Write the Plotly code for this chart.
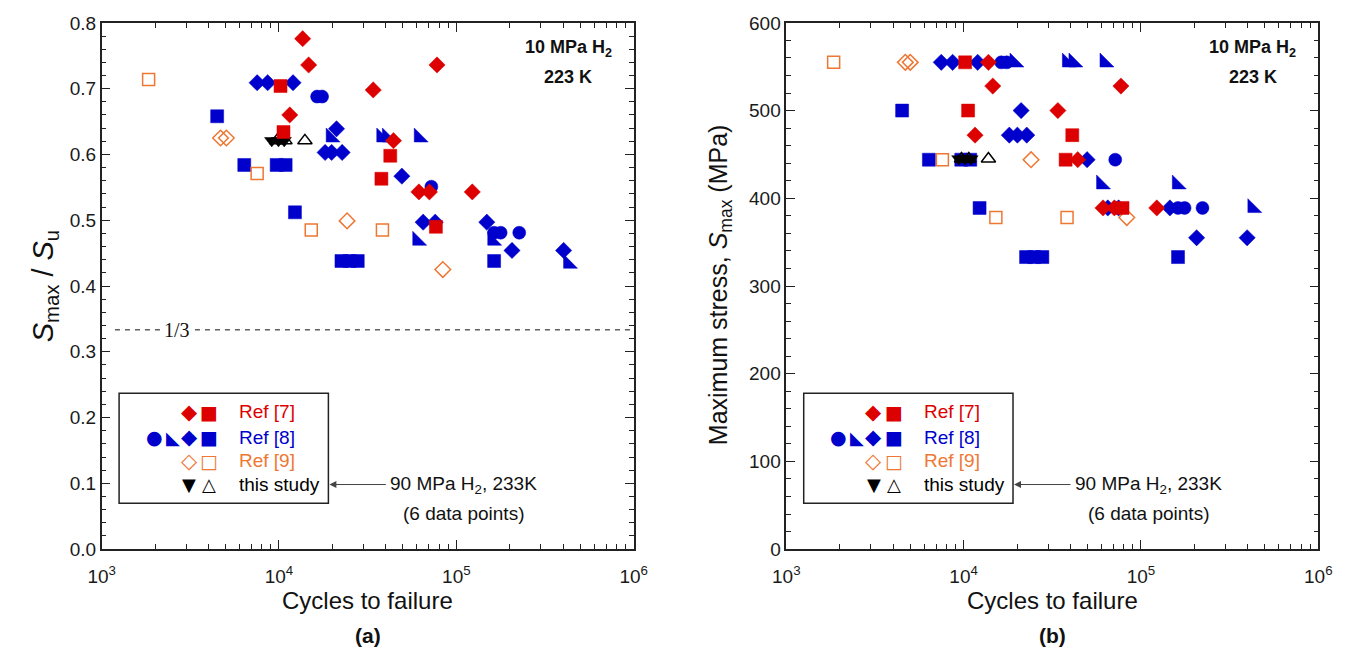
import plotly.graph_objects as go

W, H = 1361, 665

# ---------------- data (cycles to failure, Smax/Su for panel a, Smax in MPa for panel b)
ref7_dia_N_a = [13600, 14700, 11500, 34000, 44200, 61500, 70500, 123000, 77800]
ref7_dia_ratio = [0.776, 0.736, 0.660, 0.698, 0.621, 0.543, 0.543, 0.543, 0.736]
ref7_dia_N_b = [13800, 14600, 11600, 34000, 44000, 61100, 70800, 122800, 77100]
ref7_dia_stress = [555, 528, 472, 500, 444, 389, 389, 389, 528]

ref7_sq_N_a = [10200, 10600, 37800, 42400, 76700]
ref7_sq_ratio = [0.704, 0.634, 0.563, 0.598, 0.490]
ref7_sq_N_b = [10200, 10600, 37600, 41000, 78700]
ref7_sq_stress = [555, 500, 444, 472, 389]

ref8_circ_N_a = [16400, 17500, 72300, 163300, 177800, 226300]
ref8_circ_ratio = [0.688, 0.688, 0.551, 0.481, 0.481, 0.481]
ref8_circ_N_b = [16300, 17500, 71600, 161800, 176200, 222300]
ref8_circ_stress = [555, 555, 444, 389, 389, 389]

ref8_tri_N_a = [19600, 37800, 40700, 61500, 60300, 159700, 427500]
ref8_tri_ratio = [0.626, 0.626, 0.626, 0.626, 0.469, 0.469, 0.434]
ref8_tri_N_b = [19400, 38300, 41700, 62400, 59700, 159600, 425600]
ref8_tri_stress = [555, 555, 555, 555, 416, 416, 389]

ref8_dia_N_a = [7530, 8630, 12000, 21100, 18200, 19800, 22700, 49300, 65000, 76000, 148500, 206000, 402600]
ref8_dia_ratio = [0.709, 0.709, 0.709, 0.639, 0.603, 0.603, 0.603, 0.567, 0.497, 0.497, 0.497, 0.454, 0.454]
ref8_dia_N_b = [7480, 8670, 12000, 21100, 18100, 20100, 22700, 49700, 65000, 74800, 145600, 206000, 397000]
ref8_dia_stress = [555, 555, 555, 500, 472, 472, 472, 444, 389, 389, 389, 355, 355]

ref8_sq_N_a = [4480, 6370, 9700, 10900, 12300, 22500, 25000, 27800, 163300]
ref8_sq_ratio = [0.658, 0.584, 0.584, 0.584, 0.512, 0.438, 0.438, 0.438, 0.438]
ref8_sq_N_b = [4500, 6370, 9700, 10900, 12300, 22500, 25000, 27800, 161800]
ref8_sq_stress = [500, 444, 444, 444, 389, 333, 333, 333, 333]

ref9_dia_N_a = [4680, 5050, 24200, 83900]
ref9_dia_ratio = [0.625, 0.625, 0.499, 0.425]
ref9_dia_N_b = [4690, 5000, 24000, 83200]
ref9_dia_stress = [555, 555, 444, 378]

ref9_sq_N_a = [1840, 7530, 15200, 38300]
ref9_sq_ratio = [0.714, 0.571, 0.485, 0.485]
ref9_sq_N_b = [1850, 7590, 15200, 38300]
ref9_sq_stress = [555, 444, 378, 378]

this_fill_N_a = [9100, 9930, 10700]
this_fill_ratio = [0.621, 0.621, 0.621]
this_fill_N_b = [9400, 10200, 11000]
this_fill_stress = [445, 445, 445]

this_open_N_a = [9720, 10800, 14000]
this_open_ratio = [0.621, 0.621, 0.621]
this_open_N_b = [9730, 10700, 13800]
this_open_stress = [445, 445, 445]

x_major = [1e3, 1e4, 1e5, 1e6]
x_major_text = ["10<sup>3</sup>", "10<sup>4</sup>", "10<sup>5</sup>", "10<sup>6</sup>"]
y_a_ticks = [0.0, 0.1, 0.2, 0.3, 0.4, 0.5, 0.6, 0.7, 0.8]
y_b_ticks = [0, 100, 200, 300, 400, 500, 600]

RED, BLUE, ORANGE, BLACK = "#dd0000", "#0000cc", "#ee7733", "#000000"
SANS = "Liberation Sans, Arial, sans-serif"

# ---------------- traces
groups = [
    # (Na, ya, Nb, yb, symbol, color, size, open)
    (ref8_sq_N_a, ref8_sq_ratio, ref8_sq_N_b, ref8_sq_stress, "square", BLUE, 13, False),
    (ref8_circ_N_a, ref8_circ_ratio, ref8_circ_N_b, ref8_circ_stress, "circle", BLUE, 13, False),
    (ref8_tri_N_a, ref8_tri_ratio, ref8_tri_N_b, ref8_tri_stress, "triangle-sw", BLUE, 15.5, False),
    (ref8_dia_N_a, ref8_dia_ratio, ref8_dia_N_b, ref8_dia_stress, "diamond", BLUE, 12.5, False),
    (ref9_dia_N_a, ref9_dia_ratio, ref9_dia_N_b, ref9_dia_stress, "diamond-open", ORANGE, 12, True),
    (ref9_sq_N_a, ref9_sq_ratio, ref9_sq_N_b, ref9_sq_stress, "square-open", ORANGE, 12, True),
    (this_fill_N_a, this_fill_ratio, this_fill_N_b, this_fill_stress, "triangle-down", BLACK, 12.5, False),
    (this_open_N_a, this_open_ratio, this_open_N_b, this_open_stress, "triangle-up-open", BLACK, 12.5, True),
    (ref7_dia_N_a, ref7_dia_ratio, ref7_dia_N_b, ref7_dia_stress, "diamond", RED, 12.5, False),
    (ref7_sq_N_a, ref7_sq_ratio, ref7_sq_N_b, ref7_sq_stress, "square", RED, 13, False),
]

fig = go.Figure()
for Na, ya, Nb, yb, sym, col, size, is_open in groups:
    mk = dict(symbol=sym, size=size, color=col,
              line=dict(color=col, width=1.5 if is_open else 0.5))
    fig.add_trace(go.Scatter(x=Na, y=ya, mode="markers", marker=mk,
                             xaxis="x", yaxis="y", showlegend=False, hoverinfo="x+y"))
    fig.add_trace(go.Scatter(x=Nb, y=yb, mode="markers", marker=mk,
                             xaxis="x2", yaxis="y2", showlegend=False, hoverinfo="x+y"))

# ---------------- axes
def px_x(v):
    return v / W

def px_y(v):
    return 1 - v / H

x_minor = [k * 10 ** d for d in (3, 4, 5) for k in range(2, 10)]

common = dict(showline=True, linecolor="#222", linewidth=1.5, mirror="ticks",
              ticks="inside", ticklen=9, tickwidth=1.2, tickcolor="#222",
              showgrid=False, zeroline=False,
              tickfont=dict(family=SANS, size=19, color="#1a1a1a"))

xa = dict(common, type="log", range=[3, 6], tickvals=x_major, ticktext=x_major_text,
          ticklabelstandoff=9,
          minor=dict(tickvals=x_minor, ticks="inside", ticklen=5, tickcolor="#222", tickwidth=1))

fig.update_layout(
    width=W, height=H,
    margin=dict(l=0, r=0, t=0, b=0),
    paper_bgcolor="white", plot_bgcolor="white",
    showlegend=False,
    xaxis=dict(xa, domain=[px_x(89.5), px_x(632.7)], anchor="y"),
    yaxis=dict(common, range=[0, 0.8], tickvals=y_a_ticks,
               ticktext=[f"{v:.1f}" for v in y_a_ticks],
               domain=[px_y(556.7), px_y(13.3)], anchor="x",
               minor=dict(dtick=0.02, ticks="inside", ticklen=5, tickcolor="#222", tickwidth=1)),
    xaxis2=dict(xa, domain=[px_x(788.5), px_x(1331.7)], anchor="y2"),
    yaxis2=dict(common, range=[0, 600], tickvals=y_b_ticks,
                domain=[px_y(556.7), px_y(13.3)], anchor="x2",
                minor=dict(dtick=20, ticks="inside", ticklen=5, tickcolor="#222", tickwidth=1)),
)

shapes = []
annotations = []

# 1/3 dashed line in panel (a)
shapes.append(dict(type="line", xref="x domain", yref="y", x0=0.025, x1=1.0,
                   y0=1 / 3, y1=1 / 3, line=dict(color="#111", width=1, dash="5px,5px")))
annotations.append(dict(xref="x domain", yref="y", x=0.11, y=1 / 3, text="1/3",
                        showarrow=False, bgcolor="white", borderpad=3,
                        font=dict(family="Liberation Serif, Times New Roman, serif", size=20, color="#111")))


def add_panel_decor(dx, cx):
    # legend box
    shapes.append(dict(type="rect", xref="paper", yref="paper",
                       x0=px_x(107.3 + dx), x1=px_x(321 + dx),
                       y0=px_y(509.3), y1=px_y(395.7),
                       line=dict(color="#222", width=1.5), fillcolor="rgba(0,0,0,0)"))
    rows = [
        (415, [(179, "◆", RED, 21), (199, "■", RED, 19)], "Ref [7]", RED),
        (441, [(143, "●", BLUE, 19), (162, "◣", BLUE, 18), (179, "◆", BLUE, 21), (199, "■", BLUE, 19)], "Ref [8]", BLUE),
        (465.5, [(179, "◇", ORANGE, 21), (199, "□", ORANGE, 19)], "Ref [9]", ORANGE),
        (490, [(179, "▼", BLACK, 18), (199, "△", BLACK, 18)], "this study", BLACK),
    ]
    for yy, glyphs, label, col in rows:
        for gx, g, gc, gs in glyphs:
            annotations.append(dict(xref="paper", yref="paper", x=px_x(gx + dx), y=px_y(yy),
                                    text=g, showarrow=False, xanchor="center", yanchor="middle",
                                    font=dict(family="DejaVu Sans", size=gs, color=gc)))
        annotations.append(dict(xref="paper", yref="paper", x=px_x(228 + dx), y=px_y(yy),
                                text=label, showarrow=False, xanchor="left", yanchor="middle",
                                font=dict(family=SANS, size=19, color=col)))
    # arrow to legend
    annotations.append(dict(xref="paper", yref="paper", x=px_x(322 + dx), y=px_y(490),
                            ax=58, ay=0, text="", showarrow=True, arrowhead=2,
                            arrowsize=1.4, arrowwidth=1, arrowcolor="#444", standoff=0))
    annotations.append(dict(xref="paper", yref="paper", x=px_x(459 + dx), y=px_y(491),
                            text="90 MPa H<sub>2</sub>, 233K", showarrow=False,
                            xanchor="center", yanchor="middle",
                            font=dict(family=SANS, size=19, color="#111")))
    annotations.append(dict(xref="paper", yref="paper", x=px_x(459 + dx), y=px_y(520),
                            text="(6 data points)", showarrow=False,
                            xanchor="center", yanchor="middle",
                            font=dict(family=SANS, size=19, color="#111")))
    # condition labels
    annotations.append(dict(xref="paper", yref="paper", x=px_x(566 + dx), y=px_y(40),
                            text="<b>10 MPa H<sub>2</sub></b>", showarrow=False,
                            xanchor="center", yanchor="middle",
                            font=dict(family=SANS, size=18, color="#111")))
    annotations.append(dict(xref="paper", yref="paper", x=px_x(566 + dx), y=px_y(69),
                            text="<b>223 K</b>", showarrow=False,
                            xanchor="center", yanchor="middle",
                            font=dict(family=SANS, size=18, color="#111")))
    # x titles and panel letters
    annotations.append(dict(xref="paper", yref="paper", x=px_x(cx), y=px_y(610),
                            text="Cycles to failure", showarrow=False,
                            xanchor="center", yanchor="middle",
                            font=dict(family=SANS, size=24, color="#111")))
    annotations.append(dict(xref="paper", yref="paper", x=px_x(cx), y=px_y(646),
                            text="<b>(" + ("a" if dx == 0 else "b") + ")</b>", showarrow=False,
                            xanchor="center", yanchor="middle",
                            font=dict(family=SANS, size=21, color="#111")))


add_panel_decor(0, 361)
add_panel_decor(699, 1060)

# y titles
annotations.append(dict(xref="paper", yref="paper", x=px_x(32), y=px_y(285),
                        text="<i>S</i><sub>max</sub> / <i>S</i><sub>u</sub>", textangle=-90,
                        showarrow=False, xanchor="center", yanchor="middle",
                        font=dict(family=SANS, size=29, color="#111")))
annotations.append(dict(xref="paper", yref="paper", x=px_x(721), y=px_y(284),
                        text="Maximum stress, <i>S</i><sub>max</sub> (MPa)", textangle=-90,
                        showarrow=False, xanchor="center", yanchor="middle",
                        font=dict(family=SANS, size=25, color="#111")))

fig.update_layout(shapes=shapes, annotations=annotations)
fig.write_html("out.html")
